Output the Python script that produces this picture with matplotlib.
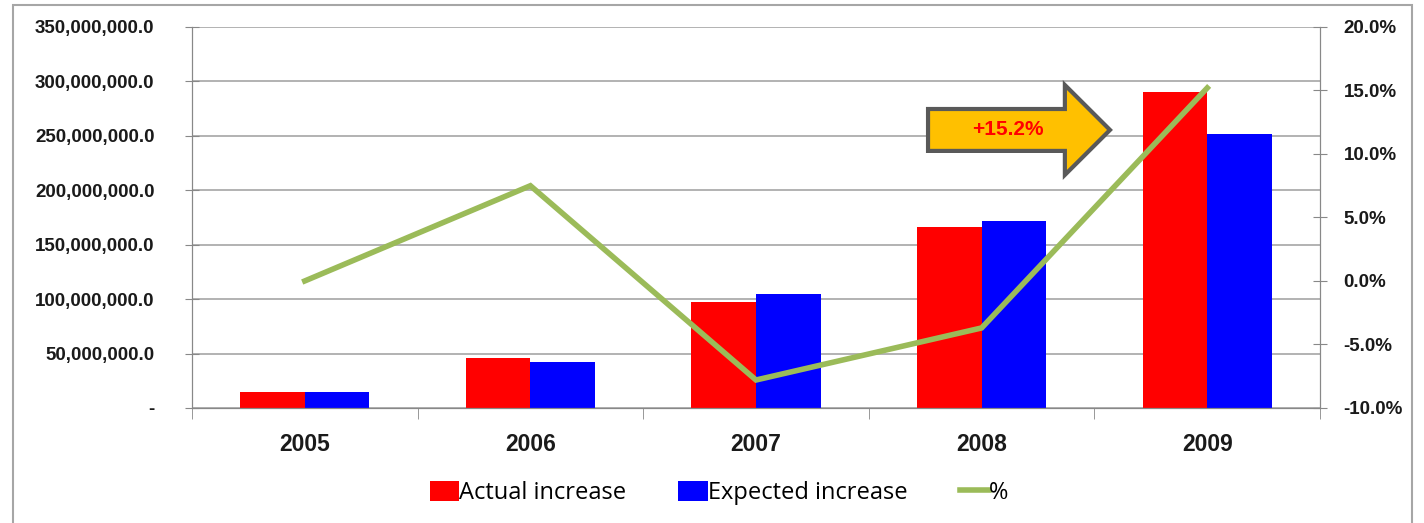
import matplotlib.pyplot as plt
import matplotlib.ticker as mticker
from matplotlib.patches import FancyArrow, Rectangle

# data
years = ['2005', '2006', '2007', '2008', '2009']
actual = [14.7e6, 46.0e6, 97.5e6, 166.5e6, 290.0e6]
expected = [14.7e6, 42.5e6, 104.5e6, 172.0e6, 252.0e6]
pct = [0.0, 7.5, -7.8, -3.7, 15.2]
callout = '+15.2%'

plt.rcParams['font.family'] = ['Open Sans', 'DejaVu Sans']
tick_font = 'Liberation Sans'

fig = plt.figure(figsize=(14.24, 5.23), dpi=100)
ax = fig.add_axes([0.1348, 0.22, 0.7922, 0.7284])
ax2 = ax.twinx()

x = list(range(len(years)))
w = 0.286
ax.bar([i - w / 2 for i in x], actual, w, color='#FF0000', label='Actual increase', zorder=2)
ax.bar([i + w / 2 for i in x], expected, w, color='#0000FF', label='Expected increase', zorder=2)
ax2.plot(x, pct, color='#9BBB59', lw=4, label='%', solid_joinstyle='miter')

ax.set_xlim(-0.5, len(years) - 0.5)
ax.set_ylim(0, 350e6)
ax.set_yticks([i * 50e6 for i in range(8)])
ax.yaxis.set_major_formatter(mticker.FuncFormatter(
    lambda v, p: '-' if v == 0 else f'{v:,.1f}'))
ax2.set_ylim(-10, 20)
ax2.set_yticks(range(-10, 21, 5))
ax2.yaxis.set_major_formatter(mticker.FuncFormatter(lambda v, p: f'{v:.1f}%'))

ax.set_xticks(x)
ax.set_xticklabels(years, fontsize=16.5, fontweight='bold', color='#1A1A1A', family=tick_font)
ax.set_xticks([i - 0.5 for i in range(len(years) + 1)], minor=True)
ax.tick_params(axis='x', which='major', length=0, pad=18)
ax.tick_params(axis='x', which='minor', length=8, color='#888888', direction='out')
ax.tick_params(axis='y', length=10, direction='inout', color='#888888',
               labelsize=13.5, pad=22, labelcolor='#1A1A1A')
ax2.tick_params(axis='y', length=10, direction='inout', color='#888888',
                labelsize=13.5, pad=12, labelcolor='#1A1A1A')
for t in ax.get_yticklabels() + ax2.get_yticklabels():
    t.set_fontweight('bold')
    t.set_family(tick_font)

ax.grid(axis='y', color='#A6A6A6', lw=1.2, zorder=0)
ax.set_axisbelow(True)
for a in (ax, ax2):
    a.spines['top'].set_visible(False)
    for s in ('left', 'right', 'bottom'):
        a.spines[s].set_color('#888888')

# callout arrow
arr = FancyArrow(0.6525, 0.7297, 0.1613, 0, width=0.110, head_width=0.236,
                 head_length=0.040, length_includes_head=True,
                 fc='#FFC000', ec='#595959', lw=3, transform=ax2.transAxes, zorder=5)
ax2.add_patch(arr)
ax2.text(0.723, 0.7297, callout, transform=ax2.transAxes, ha='center', va='center',
         color='#FF0000', fontsize=15, fontweight='bold', family='Liberation Sans', zorder=6)

h1, l1 = ax.get_legend_handles_labels()
h2, l2 = ax2.get_legend_handles_labels()
fig.legend(h1 + h2, l1 + l2, loc='center', bbox_to_anchor=(0.505, 0.058), ncol=3,
           frameon=False, fontsize=17, handlelength=1.25, handleheight=0.95,
           handletextpad=0.0, columnspacing=2.2)

fig.add_artist(Rectangle((0.0091, -0.01), 0.9824, 1.0004, transform=fig.transFigure,
                         fill=False, ec='#A6A6A6', lw=1.5))

fig.savefig('out.png', dpi=100)
